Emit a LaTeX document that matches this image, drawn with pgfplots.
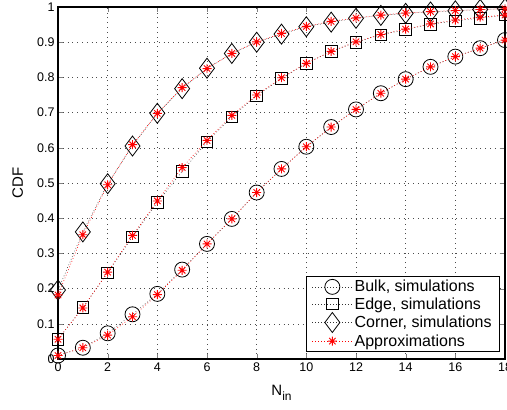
\documentclass[border=0pt]{standalone}
\usepackage{fontspec}
\setmainfont{Liberation Sans}
\usepackage{pgfplots}
\pgfplotsset{compat=1.18}

% MATLAB-like '*' marker (plus and cross together)
\pgfdeclareplotmark{mstar}{%
  \pgfpathmoveto{\pgfqpoint{-\pgfplotmarksize}{0pt}}\pgfpathlineto{\pgfqpoint{\pgfplotmarksize}{0pt}}%
  \pgfpathmoveto{\pgfqpoint{0pt}{-\pgfplotmarksize}}\pgfpathlineto{\pgfqpoint{0pt}{\pgfplotmarksize}}%
  \pgfpathmoveto{\pgfqpoint{-.707\pgfplotmarksize}{-.707\pgfplotmarksize}}\pgfpathlineto{\pgfqpoint{.707\pgfplotmarksize}{.707\pgfplotmarksize}}%
  \pgfpathmoveto{\pgfqpoint{-.707\pgfplotmarksize}{.707\pgfplotmarksize}}\pgfpathlineto{\pgfqpoint{.707\pgfplotmarksize}{-.707\pgfplotmarksize}}%
  \pgfusepathqstroke}

\pgfplotstableread{
n  bulk   edge   corner
0  0.010  0.056  0.196
1  0.032  0.146  0.361
2  0.073  0.245  0.498
3  0.127  0.347  0.605
4  0.185  0.445  0.698
5  0.254  0.533  0.768
6  0.327  0.617  0.826
7  0.398  0.688  0.868
8  0.473  0.748  0.900
9  0.540  0.797  0.923
10 0.603  0.840  0.944
11 0.659  0.874  0.957
12 0.709  0.900  0.968
13 0.755  0.921  0.976
14 0.795  0.936  0.982
15 0.830  0.951  0.986
16 0.859  0.961  0.989
17 0.883  0.968  0.993
18 0.906  0.977  0.995
}\simdata

\pgfplotstableread{
n  bulk   edge   corner
0  0.010  0.056  0.182
1  0.032  0.145  0.353
2  0.068  0.247  0.495
3  0.120  0.351  0.609
4  0.183  0.449  0.698
5  0.252  0.544  0.771
6  0.327  0.621  0.825
7  0.398  0.692  0.868
8  0.473  0.750  0.901
9  0.540  0.799  0.925
10 0.603  0.840  0.945
11 0.659  0.874  0.959
12 0.709  0.901  0.969
13 0.755  0.922  0.977
14 0.795  0.937  0.983
15 0.830  0.952  0.987
16 0.859  0.963  0.990
17 0.883  0.971  0.993
18 0.906  0.977  0.995
}\approxdata

\begin{document}
\begin{tikzpicture}
\begin{axis}[
    scale only axis,
    width=447pt, height=352pt,
    xmin=0, xmax=18, ymin=0, ymax=1,
    xtick={0,2,...,18},
    ytick={0,0.1,...,1},
    yticklabel style={/pgf/number format/fixed, /pgf/number format/precision=1},
    /pgf/number format/assume math mode=true,
    tick label style={font=\fontsize{12.5}{15}\selectfont},
    tick align=inside,
    major tick length=5pt,
    axis line style={line width=1.2pt},
    grid=major,
    grid style={black!70, line width=0.5pt, dash pattern=on 0.8pt off 4pt},
    clip mode=individual,
    xlabel={N\raisebox{-5pt}{\fontsize{12}{14}\selectfont in}},
    ylabel={CDF},
    label style={font=\fontsize{15}{18}\selectfont},
    xlabel style={at={(axis description cs:0.5,-0.095)}, anchor=center},
    ylabel style={at={(axis description cs:-0.09,0.5)}, anchor=center},
    legend cell align=left,
    legend style={at={(rel axis cs:1,0)}, anchor=south east, xshift=-5pt, yshift=7pt,
        font=\fontsize{16}{19}\selectfont, draw=black, line width=0.8pt,
        row sep=0pt, inner xsep=6pt, inner ysep=2pt},
    legend image code/.code={%
        \draw[mark repeat=2, mark phase=2] plot coordinates {(0pt,0pt) (20pt,0pt) (40pt,0pt)};},
]
\addplot[black!80, line width=0.5pt, dash pattern=on 0.8pt off 2.2pt,
    mark=o, mark size=7.5pt, mark options={solid, black, line width=0.8pt}]
    table[x=n, y=bulk] {\simdata};
\addlegendentry{Bulk, simulations}
\addplot[black!80, line width=0.5pt, dash pattern=on 0.8pt off 2.2pt,
    mark=square, mark size=5.8pt, mark options={solid, black, line width=0.8pt}]
    table[x=n, y=edge] {\simdata};
\addlegendentry{Edge, simulations}
\addplot[black!80, line width=0.5pt, dash pattern=on 0.8pt off 2.2pt,
    mark=diamond, mark size=10pt, mark options={solid, black, line width=0.8pt}]
    table[x=n, y=corner] {\simdata};
\addlegendentry{Corner, simulations}
\addplot[red, line width=0.6pt, dash pattern=on 0.8pt off 2.2pt,
    mark=mstar, mark size=4.5pt, mark options={solid, red, line width=0.9pt}]
    table[x=n, y=bulk] {\approxdata};
\addlegendentry{Approximations}
\addplot[red, line width=0.6pt, dash pattern=on 0.8pt off 2.2pt, forget plot,
    mark=mstar, mark size=4.5pt, mark options={solid, red, line width=0.9pt}]
    table[x=n, y=edge] {\approxdata};
\addplot[red, line width=0.6pt, dash pattern=on 0.8pt off 2.2pt, forget plot,
    mark=mstar, mark size=4.5pt, mark options={solid, red, line width=0.9pt}]
    table[x=n, y=corner] {\approxdata};
\coordinate (sw) at (rel axis cs:0,0);
\coordinate (ne) at (rel axis cs:1,1);
\end{axis}
\pgfresetboundingbox
\path[use as bounding box] ([xshift=-58pt,yshift=-50pt]sw) rectangle ([xshift=2pt,yshift=7pt]ne);
\end{tikzpicture}
\end{document}
